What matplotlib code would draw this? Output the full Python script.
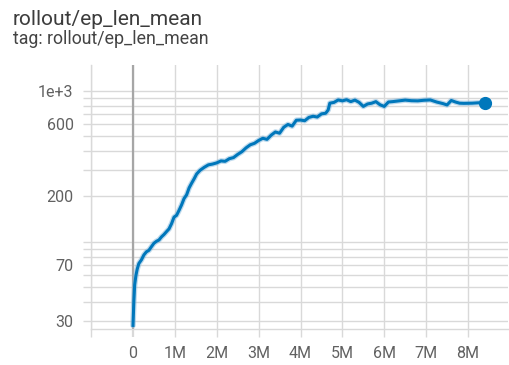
import matplotlib
matplotlib.use("Agg")
import matplotlib.pyplot as plt
from matplotlib.ticker import FixedLocator, NullFormatter, FixedFormatter

# ---- data ----
steps_m = [0.00, 0.02, 0.04, 0.07, 0.10, 0.14, 0.20, 0.26, 0.32, 0.38, 0.44, 0.50,
           0.56, 0.62, 0.68, 0.74, 0.80, 0.86, 0.92, 0.98, 1.04, 1.10, 1.16, 1.22,
           1.28, 1.34, 1.40, 1.46, 1.52, 1.60, 1.70, 1.80, 1.90, 2.00, 2.10, 2.20,
           2.30, 2.40, 2.50, 2.60, 2.70, 2.80, 2.90, 3.00, 3.10, 3.20, 3.30, 3.40,
           3.50, 3.60, 3.70, 3.80, 3.90, 4.00, 4.10, 4.20, 4.30, 4.40, 4.50, 4.60,
           4.66, 4.70, 4.80, 4.90, 5.00, 5.10, 5.20, 5.30, 5.40, 5.50, 5.60, 5.70,
           5.80, 5.90, 6.00, 6.10, 6.20, 6.35, 6.50, 6.65, 6.80, 6.95, 7.10, 7.25,
           7.40, 7.50, 7.60, 7.70, 7.80, 7.90, 8.10, 8.25, 8.40]
ep_len = [28, 40, 52, 60, 66, 72, 76, 82, 86, 88, 93, 98,
          101, 103, 108, 112, 117, 122, 132, 146, 150, 162, 176, 194,
          205, 228, 245, 262, 282, 298, 312, 324, 328, 334, 344, 342,
          356, 362, 380, 396, 420, 440, 450, 470, 486, 478, 510, 535,
          525, 575, 600, 585, 640, 642, 635, 668, 680, 672, 705, 712,
          748, 830, 840, 872, 860, 875, 850, 870, 840, 790, 820, 830,
          850, 810, 790, 845, 850, 860, 870, 862, 860, 868, 872, 845,
          825, 808, 865, 845, 830, 828, 830, 835, 828]

x_ticks = [-1, 0, 1, 2, 3, 4, 5, 6, 7, 8]
x_labels = ["", "0", "1M", "2M", "3M", "4M", "5M", "6M", "7M", "8M"]
y_grid = [30, 40, 50, 60, 70, 80, 90, 100, 200, 300, 400, 500, 600, 700, 800, 900, 1000]
y_labels = {30: "30", 70: "70", 200: "200", 600: "600", 1000: "1e+3"}

title = "rollout/ep_len_mean"
subtitle = "tag: rollout/ep_len_mean"

# ---- style ----
font = ["Roboto", "DejaVu Sans"]
plt.rcParams["font.family"] = font
W, H = 509, 365
fig = plt.figure(figsize=(W / 100, H / 100), dpi=100)
fig.patch.set_facecolor("white")

left, right, top, bottom = 91, 508, 65, 329
ax = fig.add_axes([left / W, 1 - bottom / H, (right - left) / W, (bottom - top) / H])
grid_c = "#d9d9d9"
text_c = "#616161"
line_c = "#0077bb"

ax.set_yscale("log")
ax.set_ylim(26.5, 1486)
ax.set_xlim(-1.003, 8.955)

ax.yaxis.set_major_locator(FixedLocator(y_grid))
ax.yaxis.set_major_formatter(FixedFormatter([y_labels.get(v, "") for v in y_grid]))
ax.yaxis.set_minor_locator(FixedLocator([]))
ax.yaxis.set_minor_formatter(NullFormatter())
ax.xaxis.set_major_locator(FixedLocator(x_ticks))
ax.xaxis.set_major_formatter(FixedFormatter(x_labels))

ax.grid(True, which="major", color=grid_c, linewidth=1.0)
ax.set_axisbelow(True)
ax.tick_params(axis="both", which="major", length=6, width=1.0, color=grid_c,
               labelcolor=text_c, labelsize=11.5)
ax.tick_params(axis="y", pad=6.5)
ax.tick_params(axis="x", pad=6)

for s in ["top", "right"]:
    ax.spines[s].set_visible(False)
for s in ["left", "bottom"]:
    ax.spines[s].set_color(grid_c)
    ax.spines[s].set_linewidth(1.0)

# zero line (darker)
ax.axvline(0, color="#a6a6a6", linewidth=1.6, zorder=1)
ax.xaxis.get_major_ticks()[1].tick1line.set_color("#a6a6a6")
ax.xaxis.get_major_ticks()[1].tick1line.set_markeredgewidth(1.6)

# faint raw halo + smoothed line
ax.plot(steps_m, ep_len, color="#7fb6dc", linewidth=4.0, alpha=0.5,
        solid_capstyle="round", zorder=2)
ax.plot(steps_m, ep_len, color=line_c, linewidth=2.2, solid_joinstyle="round",
        zorder=3)
ax.plot([steps_m[-1]], [ep_len[-1]], "o", color=line_c, markersize=8.5, zorder=4)

fig.text(13 / W, 1 - 25 / H, title, fontsize=15, color="#3c3c3c",
         ha="left", va="baseline", family=font)
fig.text(13 / W, 1 - 44 / H, subtitle, fontsize=12.8, color="#444444",
         ha="left", va="baseline", family=font)

fig.savefig("out.png", dpi=100, facecolor="white")
